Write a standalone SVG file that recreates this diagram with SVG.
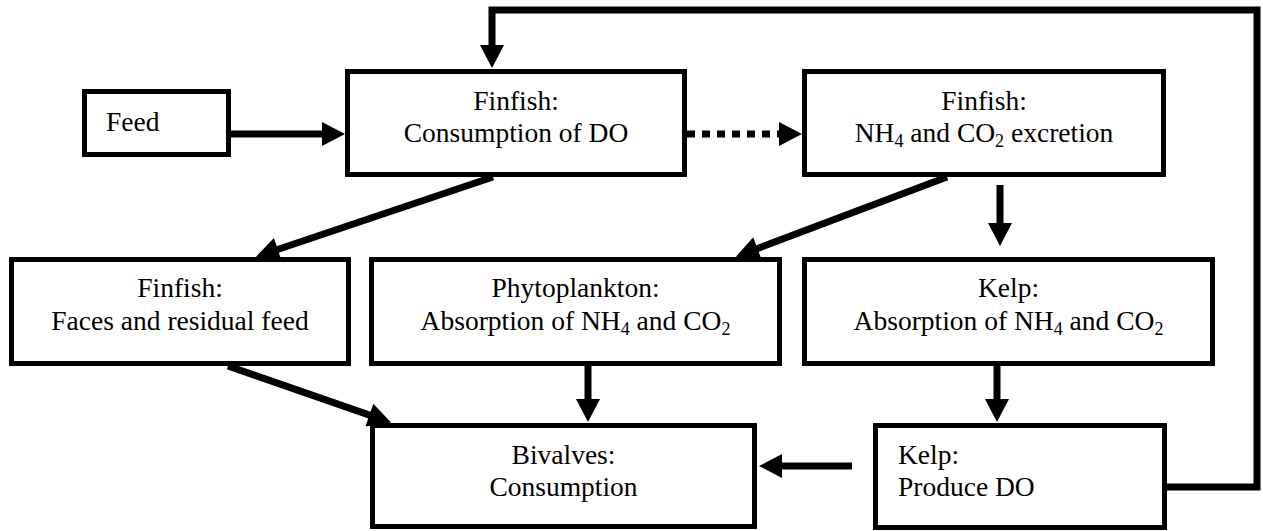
<svg xmlns="http://www.w3.org/2000/svg" width="1263" height="531" viewBox="0 0 1263 531">
<defs>
<style>
.box{fill:#fff;stroke:#000;stroke-width:5}
.t{font-family:'Liberation Serif',serif;font-size:27.5px;fill:#000}
.c{text-anchor:middle}
.s{font-size:18px}
.ln{fill:none;stroke:#000;stroke-width:7}
.arr{marker-end:url(#ah)}
.dot{stroke-dasharray:8 7}
</style>
<marker id="ah" markerUnits="userSpaceOnUse" markerWidth="24" markerHeight="24" viewBox="0 0 23 24" refX="1" refY="12" orient="auto">
<path d="M0,0 L23,12 L0,24 Z" fill="#000"/>
</marker>
</defs>
<rect width="1263" height="531" fill="#fff"/>
<g id="connectors">
<line class="ln arr" x1="231" y1="134" x2="323" y2="134"/>
<line class="ln arr dot" x1="687" y1="134" x2="780" y2="134"/>
<polyline class="ln arr" points="1167,487 1257,487 1257,10 492,10 492,46"/>
<line class="ln arr" x1="493" y1="177" x2="276.8" y2="249.7"/>
<line class="ln arr" x1="947" y1="177" x2="756.5" y2="248.9"/>
<line class="ln arr" x1="1000" y1="185" x2="1000" y2="224"/>
<line class="ln arr" x1="228" y1="366" x2="370.3" y2="415.4"/>
<line class="ln arr" x1="588" y1="366" x2="588" y2="400"/>
<line class="ln arr" x1="997" y1="366" x2="997" y2="400"/>
<line class="ln arr" x1="852" y1="466" x2="781" y2="466"/>
</g>
<g id="feed">
<rect class="box" x="84.5" y="91.5" width="144" height="63"/>
<text class="t" x="106" y="131">Feed</text>
</g>
<g id="finfish-do">
<rect class="box" x="347.5" y="71.5" width="337" height="103"/>
<text class="t c" x="516" y="110">Finfish:</text>
<text class="t c" x="516" y="142">Consumption of DO</text>
</g>
<g id="finfish-excretion">
<rect class="box" x="804.5" y="71.5" width="359" height="103"/>
<text class="t c" x="984" y="110">Finfish:</text>
<text class="t c" x="984" y="142">NH<tspan class="s" dy="5">4</tspan><tspan dy="-5"> and CO</tspan><tspan class="s" dy="5">2</tspan><tspan dy="-5"> excretion</tspan></text>
</g>
<g id="finfish-faces">
<rect class="box" x="11.5" y="259.5" width="337" height="104"/>
<text class="t c" x="180" y="297">Finfish:</text>
<text class="t c" x="180" y="330">Faces and residual feed</text>
</g>
<g id="phytoplankton">
<rect class="box" x="371.5" y="259.5" width="408" height="104"/>
<text class="t c" x="575.5" y="297">Phytoplankton:</text>
<text class="t c" x="575.5" y="330">Absorption of NH<tspan class="s" dy="5">4</tspan><tspan dy="-5"> and CO</tspan><tspan class="s" dy="5">2</tspan></text>
</g>
<g id="kelp-absorption">
<rect class="box" x="804.5" y="259.5" width="408" height="104"/>
<text class="t c" x="1008.5" y="297">Kelp:</text>
<text class="t c" x="1008.5" y="330">Absorption of NH<tspan class="s" dy="5">4</tspan><tspan dy="-5"> and CO</tspan><tspan class="s" dy="5">2</tspan></text>
</g>
<g id="bivalves">
<rect class="box" x="372.5" y="425.5" width="382" height="101"/>
<text class="t c" x="563.5" y="464">Bivalves:</text>
<text class="t c" x="563.5" y="496">Consumption</text>
</g>
<g id="kelp-produce">
<rect class="box" x="875.5" y="425.5" width="289" height="102"/>
<text class="t" x="898" y="464">Kelp:</text>
<text class="t" x="898" y="496">Produce DO</text>
</g>
</svg>
